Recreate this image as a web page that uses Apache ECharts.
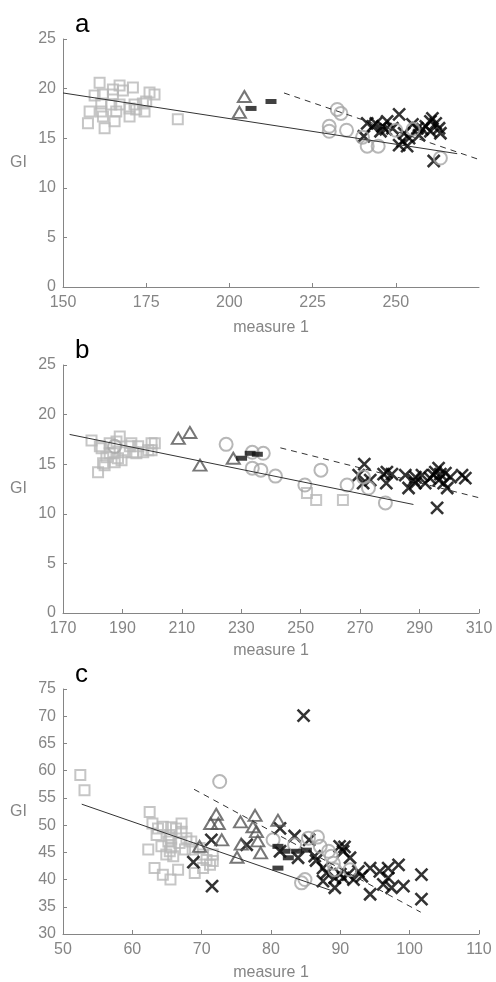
<!DOCTYPE html>
<html>
<head>
<meta charset="utf-8">
<script src="https://cdn.jsdelivr.net/npm/echarts@6/dist/echarts.min.js"></script>
<style>
  html, body { margin: 0; padding: 0; background: #fff; }
  #root { width: 496px; height: 982px; }
</style>
</head>
<body>
<div id="root"></div>
<script>
// ---- data ----
const panelLetters = ['a', 'b', 'c'];
const xTicks = [[150, 275, 25], [170, 310, 20], [50, 110, 10]];
const yTicks = [[0, 25, 5], [0, 25, 5], [30, 75, 5]];
// fit lines run a little past the right end of the x axis
const xFitMax = [285, 320, 110];

const aSquares = [[161,20.6],[167,20.3],[171,20.1],[165,19.9],[168,19.8],[176,19.6],[177.5,19.4],[159.5,19.3],[162,19.4],[165,19.4],[175,18.7],[161.5,18.5],[164.5,18.4],[167,18.4],[171.5,18.4],[174,18.5],[158,17.7],[161.5,17.7],[166,17.7],[170,18.0],[172,17.9],[174.5,17.7],[170,17.2],[162,17.2],[165.5,16.7],[157.5,16.5],[162.5,16.0],[184.5,16.9]];
const aTriangles = [[204.5,19.2],[203,17.6]];
const aBars = [[206.5,18.0],[212.5,18.7]];
const aCircles = [[232.4,17.9],[233.5,17.5],[230,16.2],[230,15.7],[235.2,15.8],[240,15.1],[241.4,14.2],[244.7,14.2],[250,15.8],[255.2,15.9],[263.4,13.0]];
const aCrosses = [[241.4,16.5],[240.4,15.2],[244,16.5],[246,16.2],[247.4,16.7],[245.4,15.7],[251,17.4],[252,14.7],[251,14.3],[253.4,14.2],[254,15.0],[259,16.2],[260.4,16.7],[262,16.5],[263,16.0],[263.4,15.5],[260.4,15.7],[261.4,12.7],[258,15.9],[256.5,16.0],[255,16.4],[261,17.0],[247,15.9],[249,16.0],[257,15.3],[252.5,15.5],[243,16.2]];
const aFit = [[150,19.56],[272.9,13.44]];
const aFitDashed = [[218.9,19.56],[279.9,12.83]];

const bSquares = [[179.6,17.4],[181.8,14.2],[184,14.9],[183,16.6],[185.7,17.1],[189.1,17.8],[189.7,15.4],[187.4,15.2],[193,17.1],[195.3,16.8],[197,16.2],[199.8,17.1],[199.8,16.4],[185.7,16.1],[184.6,15.7],[190.8,16.2],[193.6,16.2],[188.5,15.6],[192.5,16.8],[194.7,16.1],[198.7,16.4],[186.9,16.1],[182.4,16.8],[200.9,17.1],[183.5,15.1],[188,17.3],[252.1,12.1],[255.2,11.4],[264.2,11.4]];
const bTriangles = [[208.8,17.6],[212.7,18.2],[216.1,14.9],[227.3,15.6]];
const bBars = [[230.1,15.6],[233,16.1],[235.4,16.0]];
const bCircles = [[187.4,16.8],[224.9,17.0],[233.7,16.2],[237.4,16.1],[233.7,14.6],[236.6,14.4],[241.5,13.8],[251.4,12.9],[256.8,14.4],[265.6,12.9],[271.1,13.7],[272.8,12.6],[278.5,11.1]];
const bCrosses = [[271.4,15.0],[269.5,13.9],[273.4,13.4],[277.9,14.0],[278.8,13.1],[279,14.2],[280.7,14.0],[285.2,13.9],[286.3,12.6],[288,13.4],[288.6,13.7],[290.8,13.9],[291.9,13.1],[294.7,13.9],[295.3,14.2],[297,14.0],[295.9,10.6],[298.1,13.1],[299.3,12.6],[300.4,13.7],[305.4,13.6],[304.3,13.9],[296.4,14.6],[298.7,14.1],[288.6,13.1],[271,13.1],[293.5,13.6],[296.5,13.4]];
const bFit = [[172.3,18.0],[291.4,10.94]];
const bFitDashed = [[245.3,16.65],[314.4,11.6]];

const cSquares = [[52.5,59.2],[53.1,56.4],[62.5,52.4],[62.9,50.3],[63.7,49.4],[64.4,49.7],[62.3,45.5],[63.2,42.1],[64.4,40.9],[65.5,40.0],[66.6,41.8],[69,41.2],[63.5,48.2],[64.2,46.1],[65.2,47.0],[65.4,45.2],[65.9,44.3],[66.3,49.4],[67.1,48.8],[65.6,47.5],[66.8,46.7],[67.8,47.6],[68.5,47.0],[69.7,45.8],[70.2,44.6],[70.7,43.6],[71.6,44.6],[71.6,43.4],[71.2,42.7],[70.2,42.1],[64.9,44.6],[65.6,45.9],[67.6,45.5],[65.4,48.2],[67.1,50.3],[65.6,49.6],[68.7,45.5]];
const cTriangles = [[72.1,52.0],[71.3,50.3],[72.4,50.3],[72.9,47.3],[69.7,46.1],[75.1,44.1],[75.6,50.6],[77.4,49.7],[77.7,51.8],[77.9,48.8],[78.1,47.1],[78.5,44.9],[75.7,46.5],[81,50.9]];
const cBars = [[81,46.1],[82,45.2],[82.5,44.0],[83.7,45.2],[85.1,45.4],[81,42.1]];
const cCircles = [[72.6,58.0],[80.3,47.3],[83.4,46.4],[85.4,47.6],[86.7,47.8],[87.1,46.1],[88.3,45.2],[88.7,44.3],[89,43.0],[89.2,41.8],[91.4,41.8],[84.4,39.4],[84.9,40.0]];
const cCrosses = [[84.7,70.1],[68.8,43.2],[71.5,38.8],[71.4,47.3],[76.5,46.4],[81.3,49.4],[83.4,48.0],[81.3,45.2],[83.9,44.0],[86.3,44.3],[87.5,42.1],[87.5,39.7],[89.2,38.5],[89.9,46.1],[90.4,45.2],[91.4,44.0],[90.4,40.3],[91.1,40.9],[92.6,41.5],[93.1,40.6],[94.3,42.1],[94.3,37.3],[95.7,41.5],[96.2,39.1],[96.9,42.1],[96.9,40.3],[97.4,38.5],[98.4,42.7],[99.1,38.8],[101.7,40.9],[101.7,36.4],[89.2,40.3],[88,41.2],[91.9,40.0],[90.6,46.0],[85.5,47.3],[86.5,43.5],[90,41]];
const cFit = [[52.7,54.1],[89,38.3]];
const cFitDashed = [[68.9,56.8],[101.6,34.5]];

const panels = [
  { squares: aSquares, triangles: aTriangles, bars: aBars, circles: aCircles, crosses: aCrosses, fit: aFit, fitDashed: aFitDashed },
  { squares: bSquares, triangles: bTriangles, bars: bBars, circles: bCircles, crosses: bCrosses, fit: bFit, fitDashed: bFitDashed },
  { squares: cSquares, triangles: cTriangles, bars: cBars, circles: cCircles, crosses: cCrosses, fit: cFit, fitDashed: cFitDashed }
];

// ---- layout ----
const gridTops = [39, 365, 689];
const xNameGaps = [33, 30, 31];
const gridLeft = 63;
const gridW = 416;
const gridH = 248;
const gray = '#858585';
const font = 'Liberation Sans, Helvetica, Arial, sans-serif';

const chart = echarts.init(document.getElementById('root'), null, { renderer: 'canvas' });

const grids = [], xAxes = [], yAxes = [], series = [], graphics = [];

panels.forEach((p, i) => {
  const g = i * 2;       // visible grid
  const gFit = g + 1;    // wider, hidden grid with the same scale, for the fit lines
  const [xmin, xmax, xstep] = xTicks[i];
  const [ymin, ymax, ystep] = yTicks[i];

  grids.push({ left: gridLeft, top: gridTops[i], width: gridW, height: gridH });
  grids.push({ left: gridLeft, top: gridTops[i], width: gridW * (xFitMax[i] - xmin) / (xmax - xmin), height: gridH });

  xAxes.push({
    gridIndex: g, type: 'value', min: xmin, max: xmax, interval: xstep,
    name: 'measure 1', nameLocation: 'middle', nameGap: xNameGaps[i],
    nameTextStyle: { color: gray, fontSize: 16, fontFamily: font },
    axisLine: { show: true, lineStyle: { color: gray, width: 1 } },
    axisTick: { show: true, inside: true, length: 4, lineStyle: { color: gray } },
    axisLabel: { color: gray, fontSize: 16, fontFamily: font, margin: 8, showMaxLabel: i !== 0 },
    splitLine: { show: false }
  });
  xAxes.push({ gridIndex: gFit, type: 'value', min: xmin, max: xFitMax[i], show: false });

  yAxes.push({
    gridIndex: g, type: 'value', min: ymin, max: ymax, interval: ystep,
    name: 'GI', nameLocation: 'middle', nameRotate: 0, nameGap: 36,
    nameTextStyle: { color: gray, fontSize: 16, fontFamily: font },
    axisLine: { show: true, lineStyle: { color: gray, width: 1 } },
    axisTick: { show: true, inside: true, length: 4, lineStyle: { color: gray } },
    axisLabel: { color: gray, fontSize: 16, fontFamily: font, margin: 7 },
    splitLine: { show: false }
  });
  yAxes.push({ gridIndex: gFit, type: 'value', min: ymin, max: ymax, show: false });

  const base = { type: 'scatter', xAxisIndex: g, yAxisIndex: g, silent: true, animation: false };
  series.push(Object.assign({}, base, {
    data: p.squares, symbol: 'rect', symbolSize: 10,
    itemStyle: { color: 'rgba(0,0,0,0)', borderColor: '#b8b8b8', borderWidth: 2 }
  }));
  series.push(Object.assign({}, base, {
    data: p.crosses, symbol: 'path://M0 0L10 10M10 0L0 10', symbolSize: 12,
    itemStyle: { color: 'rgba(0,0,0,0)', borderColor: '#000000', borderWidth: 2.6 }
  }));
  series.push(Object.assign({}, base, {
    data: p.circles, symbol: 'circle', symbolSize: 13,
    itemStyle: { color: 'rgba(0,0,0,0)', borderColor: '#a5a5a5', borderWidth: 2 }
  }));
  series.push(Object.assign({}, base, {
    data: p.triangles, symbol: 'triangle', symbolSize: [13, 11],
    itemStyle: { color: 'rgba(0,0,0,0)', borderColor: '#555555', borderWidth: 2 }
  }));
  series.push(Object.assign({}, base, {
    data: p.bars, symbol: 'rect', symbolSize: [11, 5],
    itemStyle: { color: '#111111' }
  }));
  series.push({
    type: 'line', xAxisIndex: gFit, yAxisIndex: gFit, data: p.fit, symbol: 'none',
    silent: true, animation: false,
    lineStyle: { color: '#333333', width: 1 }
  });
  series.push({
    type: 'line', xAxisIndex: gFit, yAxisIndex: gFit, data: p.fitDashed, symbol: 'none',
    silent: true, animation: false,
    lineStyle: { color: '#333333', width: 1, type: [6, 5] }
  });

  graphics.push({
    type: 'text', left: 75, top: gridTops[i] - 27,
    style: { text: panelLetters[i], fill: '#000', font: '26px ' + font }
  });
});

const option = {
  backgroundColor: '#ffffff',
  animation: false,
  grid: grids,
  xAxis: xAxes,
  yAxis: yAxes,
  series: series,
  graphic: graphics
};
chart.setOption(option);
</script>
</body>
</html>
